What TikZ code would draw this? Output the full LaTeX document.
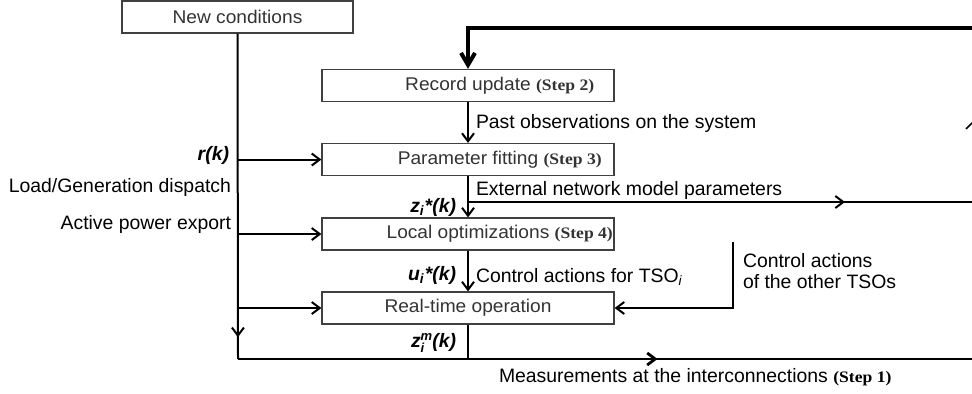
\documentclass[tikz,border=0pt]{standalone}
\usepackage{fontspec}
\setmainfont{Liberation Sans}
\newfontfamily\boxfont{Liberation Sans}[FakeStretch=1.04]
\newfontfamily\stepfont{Liberation Serif}[FakeStretch=1.1]
\usetikzlibrary{positioning, arrows.meta, decorations.markings}

\tikzset{
  stage/.style={draw=black!75, line width=0.6pt, minimum width=146pt, minimum height=16pt, inner sep=0pt, text=black!80, font=\boxfont\fontsize{9.2}{10}\selectfont},
  lbl/.style={inner sep=0pt, font=\fontsize{9.7}{10.5}\selectfont},
  var/.style={inner sep=0pt, font=\fontsize{9.7}{10.5}\selectfont\bfseries\itshape},
  mid/.style={postaction={decorate}, decoration={markings, mark=at position #1 with {\arrow{>}}}},
}
\newcommand{\steptag}[1]{\rlap{ \stepfont\bfseries\fontsize{8}{9}\selectfont(Step #1)}}

\begin{document}
\begin{tikzpicture}[x=0.5pt, y=-0.5pt, line width=1pt, >={Straight Barb[length=4pt,width=6pt]}]
  \useasboundingbox (0,0) rectangle (972,393);
  % boxes
  \node [stage, minimum width=115.5pt] (new) at (237.5,17) {New conditions};
  \node [stage] (record) at (468,85.5) {Record update\steptag{2}};
  \node [stage] (fit) at (468,159.5) {Parameter fitting\steptag{3}};
  \node [stage] (opt) at (468,234) {Local optimizations\steptag{4}};
  \node [stage] (rt) at (468,308) {Real-time operation};
  % free ends
  \coordinate (fb) at (972,28);
  \coordinate (ext) at (972,202);
  \coordinate (meas) at (972,359);
  \coordinate (corner) at (238,359);
  \coordinate (other) at (733,242);
  % connectors
  \draw [line width=2pt, -{Straight Barb[length=6pt,width=7pt]}] (fb) -| (record.north);
  \draw [->] (record) -- (fit);
  \draw [->] (fit) -- (opt);
  \draw [->] (opt) -- (rt);
  \draw [mid=0.748] (fit.south |- ext) -- (ext);
  \draw [mid=0.933] (new.south) -- (corner);
  \draw (corner) -- (rt.south |- meas);
  \draw (rt.south) -- (rt.south |- meas);
  \draw [line width=1.4pt, mid=0.376] (rt.south |- meas) -- (meas);
  \foreach \b in {fit, opt, rt} \draw [->] (new.south |- \b) -- (\b);
  \draw [->] (other) |- (rt);
  \draw [line width=0.8pt] (966,129) -- (972,123);
  % labels
  \node [lbl, anchor=west] (past) at (475,123) {Past observations on the system};
  \node [lbl, anchor=west] (model) at (475,190) {External network model parameters};
  \node [lbl, anchor=west] (tso) at (475,277) {Control actions for TSO\textsubscript{\itshape i}};
  \node [lbl, anchor=west, align=left] (others) at (742,271.5) {Control actions\\of the other TSOs};
  \node [lbl, anchor=west] (meast) at (498,377) {Measurements at the interconnections\steptag{1}};
  \node [var, anchor=east] (rk) at (230,155) {r(k)};
  \node [lbl, anchor=east] (load) at (232,187) {Load/Generation dispatch};
  \node [lbl, anchor=east] (export) at (232,224) {Active power export};
  \node [var, anchor=east] (zs) at (457,207) {z\textsubscript{i}*(k)};
  \node [var, anchor=east] (us) at (457,275) {u\textsubscript{i}*(k)};
  \node [var, anchor=east] (zm) at (457,343) {z\rlap{\raisebox{-2.6pt}{\fontsize{6.5}{7}\selectfont i}}\raisebox{3.8pt}{\fontsize{6.5}{7}\selectfont m}(k)};
\end{tikzpicture}
\end{document}
